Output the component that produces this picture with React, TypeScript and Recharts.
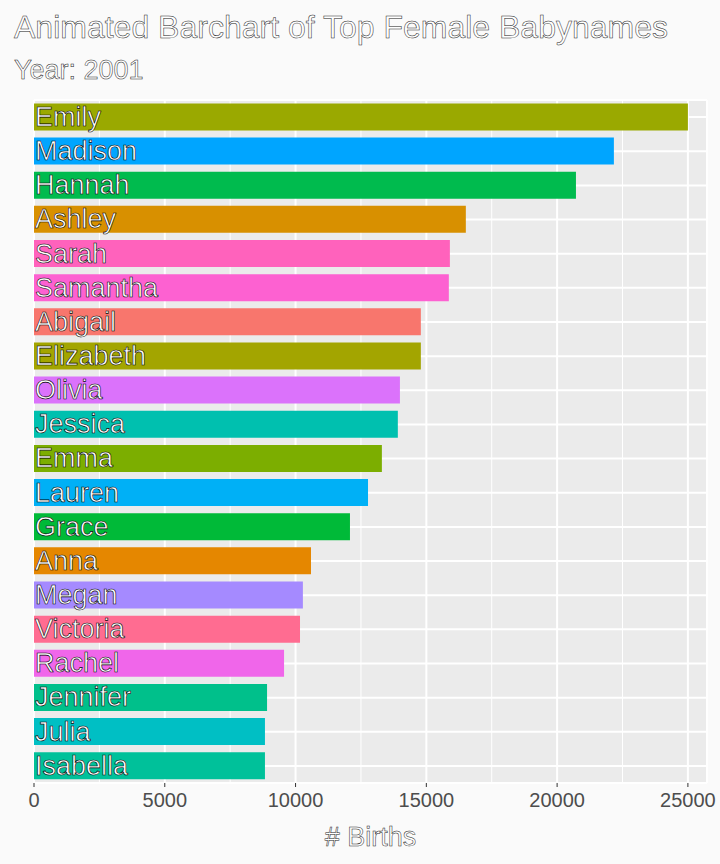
import React from "react";
import {
  BarChart,
  Bar,
  XAxis,
  YAxis,
  CartesianGrid,
  LabelList,
  Cell,
} from "recharts";

const names = [
  "Emily", "Madison", "Hannah", "Ashley", "Sarah", "Samantha", "Abigail",
  "Elizabeth", "Olivia", "Jessica", "Emma", "Lauren", "Grace", "Anna",
  "Megan", "Victoria", "Rachel", "Jennifer", "Julia", "Isabella",
];
const births = [
  25000, 22170, 20720, 16510, 15900, 15860, 14790, 14790, 13990, 13910,
  13300, 12770, 12080, 10590, 10280, 10170, 9560, 8910, 8830, 8830,
];
const colors = [
  "#9AA900", "#00A5FF", "#00BB4E", "#D89000", "#FF62BC", "#FD61D1",
  "#F8766D", "#A3A500", "#DB72FB", "#00C0AF", "#7CAE00", "#00B0F6",
  "#00BA38", "#E58700", "#A58AFF", "#FF6C91", "#F066EA", "#00C08B",
  "#00BFC4", "#00C19A",
];
const majorTicks = [0, 5000, 10000, 15000, 20000, 25000];
const minorTicks = [2500, 7500, 12500, 17500, 22500];

const data = names.map((name, i) => ({ name, value: births[i] }));

const font = "'Liberation Sans', Arial, sans-serif";

const NameLabel = (props: any) => {
  const { x, y, height, value } = props;
  return (
    <text
      x={x + 1}
      y={y + height / 2}
      dy={9}
      fontSize={27}
      fontFamily={font}
      fill="#ffffff"
      stroke="#000000"
      strokeWidth={0.6}
    >
      {value}
    </text>
  );
};

const scaleOf = (axis: any) => {
  const s = axis?.scale;
  if (!s) return (v: number) => v;
  if (typeof s === "function") return (v: number) => s(v);
  if (typeof s.map === "function") return (v: number) => s.map(v);
  return (v: number) => v;
};

export default function App() {
  return (
    <div style={{ position: "absolute", left: 0, top: 0, width: 720, height: 864, background: "#FAFAFA" }}>
      <svg width={720} height={90} style={{ position: "absolute", left: 0, top: 0 }}>
        <text x={14} y={38} fontSize={32} fontFamily={font} fill="#ffffff" stroke="#222" strokeWidth={0.5}>
          Animated Barchart of Top Female Babynames
        </text>
        <text x={14} y={79} fontSize={27} fontFamily={font} fill="#ffffff" stroke="#222" strokeWidth={0.5}>
          Year: 2001
        </text>
      </svg>
      <div style={{ position: "absolute", left: 0, top: 0 }}>
        <BarChart
          width={720}
          height={864}
          data={data}
          layout="vertical"
          margin={{ top: 100, right: 13, left: 34, bottom: 0 }}
          barCategoryGap="10%"
        >
          <CartesianGrid fill="#EBEBEB" stroke="#ffffff" strokeWidth={2} />
          <CartesianGrid
            stroke="#ffffff"
            strokeWidth={1}
            horizontal={false}
            verticalCoordinatesGenerator={({ xAxis }: any) => minorTicks.map((t) => scaleOf(xAxis)(t))}
          />
          <XAxis
            type="number"
            domain={[0, 25730]}
            ticks={majorTicks}
            allowDataOverflow
            axisLine={false}
            tickLine={{ stroke: "#333" }}
            tickSize={4}
            tick={{ fontSize: 20, fill: "#4D4D4D", fontFamily: font }}
            tickMargin={6}
            label={{
              value: "# Births",
              position: "insideBottom",
              offset: 18,
              fontSize: 27,
              fontFamily: font,
              fill: "#ffffff",
              stroke: "#222",
              strokeWidth: 0.5,
            }}
            height={81}
          />
          <YAxis type="category" dataKey="name" hide width={0} />
          <Bar dataKey="value" isAnimationActive={false}>
            {data.map((d, i) => (
              <Cell key={d.name} fill={colors[i]} />
            ))}
            <LabelList dataKey="name" content={NameLabel} />
          </Bar>
        </BarChart>
      </div>
    </div>
  );
}
